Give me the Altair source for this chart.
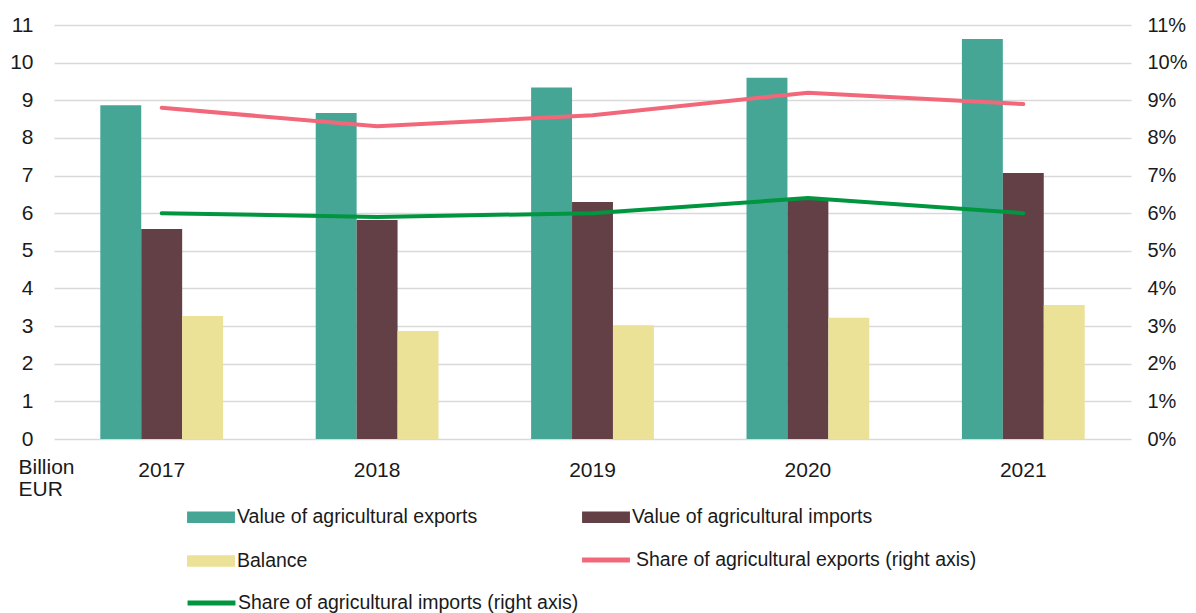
import altair as alt
import pandas as pd

# ---------------- data ----------------
years = ["2017", "2018", "2019", "2020", "2021"]
exports_value = [8.87, 8.66, 9.34, 9.60, 10.63]
imports_value = [5.58, 5.82, 6.30, 6.40, 7.07]
balance_value = [3.27, 2.87, 3.02, 3.22, 3.56]
share_exports_pct = [8.80, 8.31, 8.60, 9.20, 8.90]
share_imports_pct = [6.00, 5.90, 6.00, 6.40, 6.00]

bar_series = ["Value of agricultural exports", "Value of agricultural imports", "Balance"]
bar_colors = ["#46A696", "#634045", "#EBE197"]
line_exports_name = "Share of agricultural exports (right axis)"
line_imports_name = "Share of agricultural imports (right axis)"
line_exports_color = "#F2687A"
line_imports_color = "#00953F"

left_ticks = list(range(12))
right_ticks = list(range(12))

FONT = "Liberation Sans"
TEXT = "#1a1a1a"
GRID = "#d9d9d9"

bars_df = pd.DataFrame({
    "year": years * 3,
    "series": [bar_series[0]] * 5 + [bar_series[1]] * 5 + [bar_series[2]] * 5,
    "value": exports_value + imports_value + balance_value,
})
exp_df = pd.DataFrame({"year": years, "series": [line_exports_name] * 5, "value": share_exports_pct})
imp_df = pd.DataFrame({"year": years, "series": [line_imports_name] * 5, "value": share_imports_pct})

RECT_PATH = "M-1.14,-0.27H1.14V0.27H-1.14Z"
LINE_PATH = "M-1.14,0H1.14"

x_axis = alt.Axis(title=None, labelAngle=0, ticks=False, tickSize=0, domain=False, grid=False,
                  labelFontSize=21, labelPadding=20, labelFont=FONT, labelColor=TEXT)
x_scale = alt.Scale(paddingInner=0.43, paddingOuter=0.215)

def x_enc():
    return alt.X("year:N", scale=x_scale, axis=x_axis, sort=years)

bars = alt.Chart(bars_df).mark_bar().encode(
    x=x_enc(),
    xOffset=alt.XOffset("series:N", sort=bar_series,
                        scale=alt.Scale(domain=bar_series, paddingInner=0, paddingOuter=0)),
    y=alt.Y("value:Q",
            scale=alt.Scale(domain=[0, 11], nice=False, zero=True),
            axis=alt.Axis(values=left_ticks, grid=True, gridColor=GRID, gridWidth=1.5,
                          domain=False, ticks=False, tickSize=0, labelPadding=21,
                          labelFontSize=21, labelFont=FONT, labelColor=TEXT,
                          title=["Billion", "EUR"], titleAngle=0, titleX=-36, titleY=431,
                          titleAlign="left", titleBaseline="top", titleFontSize=21,
                          titleFontWeight="normal", titleLineHeight=22, titleFont=FONT,
                          titleColor=TEXT)),
    fill=alt.Fill("series:N", scale=alt.Scale(domain=bar_series, range=bar_colors),
                  legend=alt.Legend(title=None, orient="none", legendX=136, legendY=471,
                                    direction="horizontal", columns=2, columnPadding=104,
                                    rowPadding=13, symbolType=RECT_PATH,
                                    symbolStrokeWidth=0, labelOffset=5)),
)

right_axis = alt.Axis(orient="right", values=right_ticks, labelExpr="datum.value + '%'",
                      grid=False, domain=False, ticks=False, tickSize=0, labelPadding=16,
                      labelFontSize=20, labelFont=FONT, labelColor=TEXT, title=None)
right_scale = alt.Scale(domain=[0, 11], nice=False, zero=True)

line_exp = alt.Chart(exp_df).mark_line(strokeWidth=4, strokeCap="round").encode(
    x=x_enc(),
    y=alt.Y("value:Q", scale=right_scale, axis=right_axis),
    stroke=alt.Stroke("series:N", scale=alt.Scale(domain=[line_exports_name], range=[line_exports_color]),
                      legend=alt.Legend(title=None, orient="none", legendX=528.5, legendY=511.5,
                                        symbolType=LINE_PATH, symbolStrokeWidth=5,
                                        labelOffset=6.5)),
)

line_imp = alt.Chart(imp_df).mark_line(strokeWidth=4, strokeCap="round").encode(
    x=x_enc(),
    y=alt.Y("value:Q", scale=right_scale, axis=right_axis),
    color=alt.Color("series:N", scale=alt.Scale(domain=[line_imports_name], range=[line_imports_color]),
                    legend=alt.Legend(title=None, orient="none", legendX=134, legendY=554.5,
                                      symbolType=LINE_PATH, symbolStrokeWidth=5,
                                      labelOffset=3)),
)

lines = alt.layer(line_exp, line_imp)

chart = alt.layer(bars, lines).resolve_scale(y="independent").properties(
    width=1077, height=414, autosize="none",
    padding={"left": 46, "top": 17, "right": 57, "bottom": 174},
).configure_view(stroke=None).configure_legend(
    labelFont=FONT, labelFontSize=19.5, labelColor=TEXT, labelLimit=800,
    symbolSize=1764, padding=0, symbolOpacity=1,
)

chart.save("out.html", embed_options={"renderer": "svg", "actions": False})
